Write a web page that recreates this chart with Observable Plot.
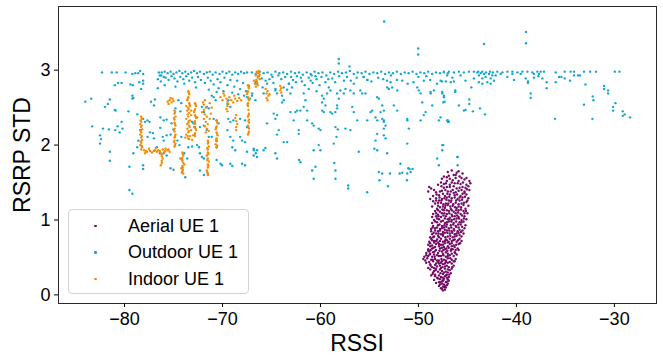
<!DOCTYPE html>
<html><head><meta charset="utf-8">
<script src="https://cdn.jsdelivr.net/npm/d3@7"></script>
<script src="https://cdn.jsdelivr.net/npm/@observablehq/plot@0.6"></script>
<style>
body{margin:0;background:#fff;}
#wrap{position:relative;width:663px;height:358px;font-family:"Liberation Sans",Arial,Helvetica,sans-serif;color:#000;}
.lab{position:absolute;font-size:23px;line-height:23px;white-space:nowrap;}
#legend{position:absolute;left:68px;top:209px;width:181px;height:85px;border:1px solid #d4d4d4;border-radius:4px;background:rgba(255,255,255,0.85);box-sizing:border-box;}
.row{position:absolute;left:0;height:20px;display:flex;align-items:center;font-size:18px;}
.mk{position:absolute;left:25px;width:2.6px;height:2.6px;border-radius:50%;}
.tx{position:absolute;left:59px;white-space:nowrap;}
</style></head><body><div id="wrap"></div><script>
const seriesNames = ["Aerial UE 1", "Outdoor UE 1", "Indoor UE 1"];
const seriesColors = ["#740a66", "#12a6d3", "#f28c0a"];
const xTicks = [-80, -70, -60, -50, -40, -30];
const yTicks = [0, 1, 2, 3];
const xLabel = "RSSI";
const yLabel = "RSRP STD";

const aerial = [
[-47.5,0.06],[-47.3,0.07],[-47.7,0.09],[-47.2,0.1],[-47.5,0.11],[-47.9,0.12],[-47.1,0.13],[-47.4,0.14],[-47.6,0.15],[-47.8,0.14],[-47.3,0.12],[-47.0,0.15],
[-48.2,0.16],[-47.9,0.17],[-47.6,0.18],[-47.2,0.17],[-46.9,0.19],[-48.4,0.2],[-47.8,0.21],[-47.4,0.22],[-47.0,0.21],[-48.1,0.23],[-47.7,0.24],[-47.3,0.25],[-46.9,0.24],[-48.3,0.25],[-47.5,0.19],[-47.1,0.23],
[-48.7,0.26],[-48.3,0.27],[-47.9,0.26],[-47.5,0.28],[-47.1,0.27],[-46.7,0.29],[-48.5,0.3],[-48.0,0.31],[-47.6,0.32],[-47.2,0.31],[-46.8,0.33],[-48.8,0.34],[-48.2,0.35],[-47.8,0.34],[-47.3,0.35],[-46.6,0.35],[-47.0,0.3],[-48.4,0.32],
[-49.0,0.36],[-48.6,0.37],[-48.1,0.38],[-47.7,0.36],[-47.3,0.38],[-46.9,0.37],[-46.4,0.39],[-48.8,0.41],[-48.3,0.4],[-47.9,0.42],[-47.5,0.41],[-47.0,0.43],[-46.6,0.42],[-48.9,0.44],[-48.5,0.45],[-48.0,0.44],[-47.6,0.45],[-47.2,0.44],[-46.3,0.45],[-47.8,0.39],
[-49.5,0.48],[-49.3,0.46],[-49.1,0.49],[-48.7,0.47],[-48.3,0.48],[-47.9,0.46],[-47.4,0.47],[-47.0,0.49],[-46.6,0.47],[-46.2,0.48],[-49.4,0.51],[-49.0,0.52],[-48.6,0.51],[-48.1,0.53],[-47.7,0.52],[-47.2,0.51],[-46.8,0.53],[-46.4,0.52],[-48.8,0.55],[-48.4,0.54],[-47.5,0.55],[-47.0,0.55],[-46.1,0.54],
[-49.2,0.56],[-48.9,0.58],[-48.5,0.57],[-48.0,0.56],[-47.6,0.58],[-47.2,0.57],[-46.7,0.59],[-46.3,0.57],[-49.0,0.61],[-48.6,0.62],[-48.2,0.6],[-47.8,0.62],[-47.3,0.61],[-46.9,0.63],[-46.5,0.61],[-46.0,0.62],[-48.8,0.65],[-48.3,0.64],[-47.9,0.65],[-47.4,0.64],[-47.0,0.65],[-46.6,0.65],[-45.9,0.6],
[-49.0,0.67],[-48.6,0.66],[-48.2,0.68],[-47.7,0.67],[-47.3,0.69],[-46.8,0.68],[-46.4,0.66],[-45.9,0.68],[-48.9,0.71],[-48.4,0.72],[-48.0,0.7],[-47.5,0.71],[-47.1,0.73],[-46.6,0.72],[-46.1,0.71],[-45.6,0.72],[-48.7,0.75],[-48.1,0.74],[-47.7,0.75],[-47.2,0.74],[-46.8,0.75],[-46.3,0.74],[-45.8,0.75],
[-48.8,0.77],[-48.4,0.78],[-47.9,0.77],[-47.5,0.79],[-47.0,0.78],[-46.5,0.77],[-46.1,0.79],[-45.6,0.78],[-48.6,0.81],[-48.2,0.82],[-47.7,0.81],[-47.3,0.83],[-46.8,0.82],[-46.3,0.81],[-45.9,0.83],[-45.4,0.82],[-48.7,0.85],[-48.0,0.85],[-47.5,0.84],[-47.1,0.86],[-46.6,0.85],[-46.0,0.85],[-45.5,0.86],
[-48.7,0.88],[-48.3,0.89],[-47.8,0.88],[-47.4,0.9],[-46.9,0.89],[-46.4,0.88],[-45.9,0.9],[-45.3,0.89],[-48.5,0.92],[-48.0,0.93],[-47.6,0.92],[-47.1,0.94],[-46.7,0.93],[-46.2,0.92],[-45.7,0.94],[-45.2,0.93],[-48.6,0.96],[-48.1,0.97],[-47.3,0.96],[-46.9,0.98],[-46.4,0.96],[-45.8,0.97],[-45.4,0.98],
[-48.4,1.0],[-47.9,1.01],[-47.5,0.99],[-47.0,1.01],[-46.6,1.0],[-46.1,1.02],[-45.6,1.0],[-45.1,1.01],[-48.6,1.04],[-48.2,1.05],[-47.7,1.04],[-47.2,1.05],[-46.8,1.03],[-46.3,1.05],[-45.9,1.04],[-45.3,1.05],
[-48.5,1.08],[-48.0,1.07],[-47.6,1.09],[-47.1,1.08],[-46.6,1.07],[-46.2,1.09],[-45.7,1.08],[-45.0,1.09],[-48.3,1.12],[-47.8,1.11],[-47.4,1.13],[-46.9,1.12],[-46.4,1.11],[-45.9,1.13],[-45.4,1.12],[-48.1,1.15],[-47.3,1.16],[-46.7,1.15],[-46.1,1.16],[-45.2,1.15],
[-48.6,1.18],[-48.0,1.19],[-47.5,1.18],[-47.0,1.2],[-46.5,1.19],[-45.9,1.18],[-45.4,1.2],[-44.9,1.19],[-48.3,1.22],[-47.7,1.23],[-47.2,1.22],[-46.7,1.24],[-46.2,1.23],[-45.6,1.22],[-45.1,1.24],[-48.5,1.25],[-47.9,1.26],[-46.9,1.26],[-45.8,1.26],
[-48.8,1.28],[-48.2,1.29],[-47.6,1.28],[-47.1,1.3],[-46.6,1.29],[-46.0,1.28],[-45.5,1.3],[-44.9,1.29],[-48.5,1.32],[-47.9,1.33],[-47.3,1.32],[-46.8,1.34],[-46.3,1.33],[-45.7,1.32],[-45.1,1.34],[-47.5,1.35],[-46.4,1.36],[-45.3,1.36],
[-49.0,1.38],[-48.7,1.42],[-48.4,1.4],[-48.9,1.44],[-48.2,1.37],[-47.6,1.39],[-47.0,1.38],[-46.5,1.4],[-45.9,1.39],[-45.3,1.38],[-44.8,1.4],[-47.4,1.43],[-46.8,1.44],[-46.1,1.42],[-45.5,1.44],[-44.9,1.45],
[-48.0,1.47],[-47.4,1.48],[-46.8,1.47],[-46.3,1.49],[-45.7,1.48],[-45.1,1.47],[-44.7,1.49],[-47.1,1.52],[-46.5,1.53],[-45.9,1.52],[-45.3,1.54],[-44.8,1.52],[-47.6,1.55],[-46.2,1.56],
[-47.4,1.58],[-46.9,1.59],[-46.4,1.6],[-45.8,1.58],[-45.5,1.62],[-47.0,1.64],[-46.1,1.63],[-46.6,1.66],[-45.9,1.65],
[-47.6,0.08],[-47.35,0.1],[-47.8,0.17],[-47.05,0.18],[-47.45,0.2],
[-48.0,0.22],[-47.55,0.23],[-47.2,0.26],[-46.85,0.27],[-48.55,0.28],[-47.75,0.29],[-47.4,0.3],[-48.25,0.33],[-47.0,0.34],
[-48.75,0.39],[-48.4,0.36],[-47.55,0.37],[-47.1,0.39],[-46.55,0.37],[-48.2,0.42],[-47.7,0.43],[-47.3,0.42],[-46.8,0.44],[-49.2,0.43],[-48.55,0.47],[-48.1,0.46],[-47.65,0.48],[-47.2,0.46],[-46.75,0.49],[-46.4,0.45],
[-49.2,0.53],[-48.85,0.54],[-48.35,0.51],[-47.9,0.52],[-47.45,0.53],[-47.0,0.52],[-46.6,0.55],[-46.25,0.56],[-49.0,0.59],[-48.75,0.6],[-48.35,0.58],[-47.85,0.59],[-47.45,0.6],[-47.05,0.59],[-46.65,0.61],[-46.2,0.6],[-48.45,0.63],[-47.6,0.63],[-47.15,0.62],[-46.3,0.64],
[-48.8,0.69],[-48.4,0.7],[-47.9,0.68],[-47.5,0.67],[-47.0,0.7],[-46.6,0.69],[-46.15,0.67],[-45.75,0.69],[-48.6,0.73],[-48.2,0.72],[-47.8,0.72],[-47.3,0.72],[-46.9,0.71],[-46.45,0.73],[-45.95,0.73],[-48.5,0.77],[-48.0,0.79],[-47.25,0.77],[-46.75,0.79],[-46.3,0.78],[-45.8,0.8],
[-48.45,0.83],[-47.95,0.82],[-47.5,0.81],[-47.05,0.83],[-46.55,0.83],[-46.1,0.82],[-45.65,0.84],[-48.3,0.86],[-47.8,0.86],[-47.3,0.87],[-46.85,0.86],[-46.35,0.86],[-45.8,0.87],[-48.55,0.9],[-48.1,0.9],[-47.6,0.89],[-47.15,0.91],[-46.65,0.9],[-46.15,0.91],[-45.55,0.91],[-47.85,0.94],[-47.35,0.93],[-46.45,0.94],[-45.95,0.94],
[-48.3,0.98],[-47.7,0.98],[-47.1,0.97],[-46.65,0.98],[-46.15,0.98],[-45.6,0.97],[-48.1,1.02],[-47.3,1.02],[-46.85,1.01],[-46.35,1.01],[-45.85,1.02],[-45.35,1.02],[-47.95,1.05],[-47.45,1.06],[-46.55,1.05],[-46.05,1.06],[-45.55,1.06],[-48.2,1.09],[-47.35,1.09],[-46.85,1.09],[-45.95,1.1],[-45.3,1.09],
[-48.0,1.13],[-47.55,1.14],[-47.1,1.13],[-46.6,1.13],[-46.15,1.13],[-45.65,1.14],[-45.15,1.12],[-47.8,1.17],[-47.25,1.19],[-46.75,1.18],[-46.25,1.17],[-45.65,1.17],[-48.0,1.23],[-47.45,1.21],[-46.95,1.22],[-46.45,1.21],[-45.9,1.21],[-45.35,1.23],[-48.2,1.26],[-47.65,1.26],[-47.15,1.27],[-46.65,1.26],[-46.15,1.26],[-45.55,1.27],[-45.0,1.26],
[-47.85,1.3],[-47.35,1.29],[-46.85,1.31],[-46.3,1.3],[-45.8,1.3],[-45.25,1.31],[-48.15,1.34],[-47.05,1.35],[-46.05,1.34],[-45.5,1.35],[-47.8,1.38],[-47.25,1.4],[-46.7,1.38],[-46.2,1.37],[-45.6,1.4],[-45.05,1.41],[-47.65,1.45],[-47.1,1.44],[-46.4,1.45],[-45.8,1.43],[-45.2,1.43],
[-47.7,1.5],[-47.2,1.49],[-46.6,1.5],[-46.0,1.49],[-45.45,1.5],[-46.8,1.55],[-45.6,1.56],[-45.1,1.56],[-47.1,1.57],[-46.2,1.6]
];

const outdoor = [
[-84.0,2.58],[-83.4,2.62],[-83.3,2.25],[-82.5,2.13],[-82.4,2.08],[-82.5,2.02],[-82.2,2.22],[-81.6,2.21],[-81.5,1.91],[-81.5,1.79],[-82.0,2.51],[-81.7,2.55],[-81.5,2.61],[-81.0,2.47],[-80.9,2.46],[-80.95,2.2],[-80.5,2.17],[-80.2,2.22],[-80.3,2.31],[-80.7,2.25],[-79.6,2.45],[-79.5,1.71],[-79.1,1.89],[-79.5,1.4],[-79.2,1.35],[-78.7,2.41],[-78.1,2.35],[-78.4,2.2],[-78.6,2.06],[-78.7,1.97],[-78.1,1.73],[-78.1,1.68],
[-82.3,2.97],[-81.3,2.97],[-80.8,2.97],[-79.9,2.97],[-79.2,2.95],[-78.9,2.96],[-78.6,2.96],[-78.4,2.99],[-78.1,2.95],
[-80.65,2.83],[-80.3,2.83],[-81.0,2.8],[-79.4,2.81],[-79.15,2.8],[-78.5,2.84],[-78.1,2.86],[-78.1,2.82],[-78.3,2.75],[-79.2,2.66],[-79.1,2.63],[-79.2,2.62],
[-77.9,2.31],[-77.65,2.33],[-77.45,2.31],[-77.4,2.17],[-77.1,2.16],[-77.65,2.11],[-77.0,2.09],[-77.3,2.58],[-76.9,2.61],[-77.0,2.53],[-76.6,2.76],
[-76.35,2.37],[-76.0,2.33],[-76.35,2.23],[-76.0,2.06],[-76.1,2.11],[-76.7,1.97],[-76.4,1.89],[-76.0,1.89],[-75.7,1.86],[-75.7,2.13],[-75.3,2.14],[-75.7,2.34],[-75.2,2.29],[-75.0,2.21],[-74.5,2.6],[-74.2,2.56],[-74.8,2.49],[-74.3,2.45],[-74.6,2.06],[-74.2,2.11],[-74.4,2.0],[-75.3,1.69],[-75.0,1.67],[-73.8,1.57],[-73.9,1.89],[-73.6,1.82],[-73.5,1.97],[-73.1,1.98],[-72.6,2.0],[-72.4,1.97],[-72.95,2.29],[-72.8,2.24],[-73.1,2.31],[-72.6,2.37],[-72.1,2.51],[-71.6,2.51],[-71.4,2.49],[-71.9,2.44],[-72.3,2.24],[-71.9,2.26],[-71.6,2.2],[-71.4,2.11],[-72.3,1.89],[-72.1,1.84],[-71.9,1.82],[-71.9,1.6],[-72.3,1.66],[-71.1,2.66],[-70.9,2.64],[-70.6,2.71],[-70.7,2.6],[-70.9,2.35],[-70.6,2.33],[-70.4,2.29],[-71.1,2.11],[-70.6,2.06],[-70.6,1.97],[-70.6,1.8],[-70.2,1.75],[-70.05,1.73],[-69.5,2.55],[-69.4,2.6],[-69.2,2.51],[-69.4,2.35],[-69.2,2.31],[-68.9,2.33],[-69.5,2.2],[-69.2,2.11],[-68.9,2.06],[-69.0,1.97],[-68.7,1.93],[-69.2,1.75],[-69.0,1.72],[-68.2,2.11],[-68.0,2.06],[-67.7,2.04],[-67.5,1.91],[-66.8,1.93],[-66.6,1.89],[-68.0,1.75],[-67.7,1.73],[-68.2,2.35],[-67.7,2.33],[-67.5,2.24],[-67.5,2.64],[-67.2,2.62],[-67.0,2.66],
[-76.5,2.97],[-76.2,2.97],[-76.4,2.93],[-76.25,2.93],[-76.0,2.91],[-75.9,2.98],[-75.6,2.96],[-75.3,2.98],[-75.0,2.95],[-74.7,2.97],[-74.4,2.99],[-74.1,2.96],[-73.8,2.98],[-73.5,2.95],[-73.2,2.97],[-72.9,2.99],[-72.6,2.96],[-72.3,2.98],[-71.9,2.95],[-71.6,2.97],[-71.3,2.98],[-71.0,2.94],[-70.7,2.97],[-70.3,2.95],[-70.0,2.98],[-69.6,2.96],[-69.3,2.98],[-69.0,2.94],[-68.7,2.97],[-68.4,2.95],[-68.1,2.98],[-67.8,2.96],[-67.5,2.97],
[-76.6,2.88],[-76.3,2.85],[-75.8,2.9],[-75.5,2.87],[-75.2,2.92],[-74.9,2.89],[-74.6,2.85],[-74.3,2.91],[-74.0,2.88],[-73.7,2.92],[-73.4,2.86],[-73.1,2.9],[-72.8,2.84],[-72.5,2.91],[-72.2,2.87],[-71.8,2.83],[-71.5,2.9],[-71.2,2.86],[-70.9,2.81],[-70.5,2.88],[-70.2,2.84],[-69.8,2.9],[-69.5,2.8],[-69.2,2.87],[-68.8,2.78],[-68.5,2.86],[-68.2,2.75],[-67.9,2.83],[-67.6,2.72],[-67.3,2.79],[-75.9,2.8],[-74.8,2.78],[-73.9,2.82],[-72.7,2.77],[-71.4,2.74],[-70.4,2.76],[-69.9,2.72],[-69.0,2.7],[-68.4,2.68],[-67.8,2.66],
[-67.0,2.97],[-66.6,2.95],[-66.2,2.98],[-65.8,2.96],[-65.4,2.97],[-65.0,2.94],[-64.6,2.98],[-64.2,2.96],[-63.8,2.97],[-63.4,2.95],[-63.0,2.98],[-62.6,2.96],[-62.2,2.97],[-61.8,2.94],[-61.4,2.97],[-61.0,2.95],[-60.6,2.98],[-60.2,2.96],[-59.8,2.97],[-59.4,2.93],[-59.0,2.97],[-58.6,2.95],[-58.2,2.98],[-57.8,2.96],[-57.4,2.97],[-57.0,2.99],[-56.6,2.95],[-56.2,2.97],[-55.8,2.96],[-55.4,2.98],[-55.0,2.95],[-54.6,2.97],[-54.2,2.96],[-53.8,2.98],[-53.4,2.95],[-53.0,2.97],[-52.6,2.96],[-52.2,2.98],[-51.8,2.95],[-51.4,2.97],[-51.0,2.96],[-50.6,2.98],[-50.2,2.95],[-49.8,2.97],[-49.4,2.96],[-49.0,2.98],[-48.6,2.95],[-48.2,2.97],[-47.8,2.96],[-47.4,2.98],[-47.0,2.96],
[-66.6,2.84],[-66.6,2.82],[-66.0,2.89],[-65.6,2.86],[-65.45,2.82],[-64.9,2.91],[-64.0,2.88],[-63.2,2.82],[-63.6,2.91],[-62.8,2.87],[-62.4,2.92],[-61.9,2.85],[-61.2,2.9],[-60.8,2.83],[-60.4,2.88],[-59.9,2.91],[-59.5,2.84],[-58.8,2.89],[-57.6,2.86],[-56.9,2.86],[-56.6,2.82],[-56.3,2.9],[-55.6,2.91],[-55.2,2.87],[-54.8,2.85],[-54.1,2.9],[-53.6,2.88],[-53.2,2.86],[-52.85,2.84],[-52.2,2.87],[-51.65,2.86],[-51.1,2.82],[-50.5,2.84],[-49.45,2.86],[-48.8,2.87],[-48.1,2.82],[-47.6,2.85],[-50.0,2.91],[-49.2,2.92],[-52.8,2.93],[-58.1,2.92],[-60.9,2.93],
[-66.3,2.92],[-65.2,2.88],[-64.8,2.83],[-64.3,2.93],[-63.0,2.91],[-62.5,2.84],[-62.0,2.9],[-61.6,2.8],[-61.0,2.86],[-60.5,2.92],[-60.1,2.8],[-59.2,2.88],[-58.5,2.84],[-57.3,2.91],[-65.9,2.77],[-63.4,2.74],[-62.9,2.77],[-61.2,2.75],[-60.4,2.72],
[-66.98,2.69],[-66.64,2.6],[-65.8,2.69],[-64.6,2.75],[-64.6,2.73],[-64.43,2.69],[-63.92,2.66],[-63.75,2.6],[-63.92,2.57],[-63.75,2.77],[-63.24,2.82],[-63.07,2.69],[-64.77,2.42],[-64.6,2.35],[-64.43,2.4],[-65.45,2.29],[-64.26,2.2],[-64.43,2.14],[-63.75,2.04],[-63.4,2.04],[-65.8,1.93],[-66.47,1.84],[-66.82,1.86],[-64.6,1.89],[-64.43,1.82],[-62.22,2.15],[-62.22,2.2],[-63.07,2.44],[-62.56,2.44],[-62.38,2.46],[-62.05,2.46],[-62.73,2.33],[-61.36,2.33],[-60.85,2.29],[-60.69,2.26],[-61.71,2.69],[-61.53,2.6],[-61.71,2.51],[-61.36,2.46],[-60.18,2.22],[-60.0,2.2],[-60.18,2.0],[-60.0,1.93],[-60.69,1.93],[-60.51,1.71],[-60.85,1.66],[-59.83,2.46],[-59.66,2.44],[-58.99,2.44],[-58.81,2.42],[-58.48,2.44],[-59.83,2.66],[-59.66,2.62],[-59.83,2.57],[-59.49,2.53],[-59.15,2.77],[-58.99,2.73],[-59.32,2.69],[-58.3,2.69],[-58.13,2.62],[-58.3,2.53],[-58.3,2.49],[-58.47,2.24],[-58.23,2.21],[-58.37,2.11],[-57.45,2.22],[-56.95,2.2],[-58.64,2.02],[-58.47,1.66],[-57.97,2.73],[-57.62,2.69],[-57.45,2.75],[-56.76,2.51],[-56.6,2.44],[-56.95,2.73],[-56.6,2.69],[-55.93,2.73],[-55.74,2.69],[-55.41,2.69],[-56.25,2.33],[-56.09,1.91],[-55.23,2.33],[-54.89,2.44],[-54.72,2.46],[-54.21,2.64],[-54.04,2.62],[-53.7,2.53],[-53.53,2.46],[-54.38,2.37],[-54.21,2.33],[-53.87,2.44],[-53.7,2.35],[-53.53,2.33],[-53.53,2.31],[-53.36,2.26],[-53.53,2.22],[-54.21,2.15],[-54.38,2.06],[-53.53,2.13],[-53.36,2.09],[-54.21,1.93],[-53.19,1.89],[-54.04,1.64],[-53.7,1.62],[-53.19,2.77],[-53.02,2.75],[-52.68,2.77],[-52.16,2.73],[-52.51,2.53],[-52.16,2.46],[-51.14,2.35],[-51.14,2.33],[-50.98,2.22],[-51.14,2.02],[-50.8,1.64],[-51.14,1.62],[-50.12,2.77],[-49.96,2.73],[-49.78,2.69],[-49.61,2.57],[-49.78,2.33],[-49.45,2.4],[-49.27,2.44],[-48.76,2.71],[-48.76,2.69],[-48.42,2.73],[-48.59,2.53],[-47.91,2.33],[-47.74,2.37],[-47.57,2.69],[-47.4,2.64],[-47.46,2.57],[-47.06,2.33],[-46.89,2.31],[-47.57,1.93],[-47.46,2.0],[-48.08,1.82],[-47.91,1.73],[-51.84,1.75],[-55.58,2.91],[-55.23,2.87],[-66.82,1.95],[-66.47,1.93],[-65.62,1.96],[-62.05,1.77],[-60.69,1.55],[-58.47,1.55],
[-58.13,3.15],[-58.13,3.09],[-57.04,3.05],[-50.02,3.29],[-50.02,3.21],[-43.31,3.35],[-39.02,3.51],[-39.02,3.36],[-53.5,3.65],
[-57.17,1.46],[-57.17,1.42],[-55.23,1.37],[-53.97,1.53],[-53.11,1.45],[-52.9,1.62],[-51.04,1.69],[-51.17,1.53],[-51.92,1.62],[-50.6,1.68],[-62.18,1.8],[-58.59,1.76],[-54.5,1.95],[-46.0,1.84],[-46.0,1.73],[-51.65,1.63],[-50.9,1.68],
[-47.74,2.86],[-47.2,2.85],[-46.7,2.84],[-46.38,2.85],[-46.24,2.73],[-46.24,2.71],[-47.57,2.71],[-47.4,2.66],[-47.33,2.58],[-47.0,2.33],[-47.0,2.31],[-47.57,2.0],[-46.03,1.84],[-45.87,2.53],[-45.36,2.46],[-45.19,2.47],[-44.81,2.61],[-44.81,2.55],[-44.6,2.77],[-44.44,2.45],[-43.72,2.49],[-43.21,2.41],[-38.82,2.85],[-38.82,2.83],[-38.54,2.69],[-38.54,2.63],[-38.21,2.9],[-37.76,2.92],[-37.35,2.89],[-36.91,2.84],[-36.91,2.76],[-36.06,2.35],[-35.99,2.84],[-35.65,2.91],[-35.41,2.91],[-35.07,2.89],[-34.53,2.86],[-34.12,2.93],[-33.71,2.93],[-33.5,2.93],[-32.95,2.81],[-33.1,2.54],[-32.21,2.65],[-32.14,2.6],[-32.24,2.35],[-31.05,2.79],[-31.05,2.75],[-30.64,2.73],[-30.64,2.69],[-29.89,2.56],[-30.13,2.51],[-30.13,2.46],[-29.14,2.45],[-28.94,2.41],[-29.14,2.39],[-28.4,2.37],
[-29.96,2.98],[-29.48,2.98],[-31.87,2.98],[-32.48,2.98],[-33.1,2.98],[-35.07,2.98],[-34.46,2.98],[-34.12,2.98],[-35.99,2.97],[-41.95,2.98],[-41.43,2.97],[-40.92,2.98],[-40.41,2.98],[-39.9,2.97],[-39.39,2.98],[-38.88,2.98],[-38.37,2.97],[-37.86,2.98],[-37.52,2.98],[-37.18,2.98],[-47.4,2.97],[-46.89,2.98],[-46.38,2.97],[-45.87,2.98],[-45.36,2.97],[-44.85,2.98],[-44.34,2.98],
[-47.06,2.93],[-46.54,2.9],[-45.7,2.93],[-45.19,2.86],[-44.34,2.89],[-42.12,2.93],[-41.61,2.95],[-40.92,2.91],[-40.41,2.95],[-40.25,2.87],[-39.56,2.95],[-39.05,2.89],[-38.21,2.95],[-37.7,2.95],
[-43.99,2.97],[-43.83,2.93],[-43.65,2.96],[-43.48,2.89],[-43.31,2.95],[-43.14,2.91],[-42.97,2.84],[-42.8,2.95],[-42.63,2.89],[-42.46,2.93],[-43.83,2.84],[-43.48,2.82],[-42.63,2.82],[-42.29,2.86],[-43.9,2.98],[-43.5,2.98],[-43.1,2.97],[-42.7,2.98],[-42.4,2.97]
];

const indoor = [
[-78.3,2.38],[-78.2,2.35],[-78.3,2.31],[-78.4,2.28],[-78.3,2.24],[-78.2,2.21],[-78.3,2.17],[-78.4,2.14],[-78.3,2.1],[-78.2,2.07],[-78.3,2.03],[-78.4,2.0],[-78.2,1.97],[-78.3,1.94],
[-78.25,2.36],[-78.35,2.33],[-78.25,2.26],[-78.35,2.19],[-78.25,2.12],[-78.35,2.05],[-78.25,1.99],
[-78.0,1.93],[-77.7,1.91],[-77.4,1.92],[-77.2,1.9],[-76.9,1.93],[-76.7,1.91],[-76.4,1.92],[-76.1,1.94],[-75.9,1.92],[-75.6,1.93],[-75.4,1.91],[-77.5,1.95],[-76.8,1.96],[-76.3,1.89],[-75.8,1.95],[-77.9,1.89],
[-77.8,1.92],[-77.0,1.92],[-76.55,1.93],[-75.95,1.9],[-75.5,1.94],
[-76.2,1.88],[-76.2,1.85],[-76.1,1.82],[-76.2,1.79],[-76.2,1.76],[-76.3,1.73],
[-75.6,2.58],[-75.4,2.6],[-75.2,2.57],[-75.0,2.59],[-75.3,2.63],[-75.5,2.55],[-75.1,2.62],
[-74.9,2.46],[-74.9,2.42],[-74.8,2.38],[-74.9,2.34],[-74.9,2.3],[-74.8,2.26],[-74.9,2.22],[-74.9,2.18],[-74.8,2.14],[-74.9,2.1],[-74.9,2.06],[-74.8,2.02],[-74.9,1.98],
[-74.85,2.44],[-74.95,2.36],[-74.85,2.28],[-74.95,2.2],[-74.85,2.12],[-74.95,2.04],[-74.85,2.0],
[-74.1,1.9],[-74.0,1.86],[-74.1,1.83],[-74.1,1.79],[-74.0,1.76],[-74.1,1.72],[-74.2,1.69],[-74.1,1.65],[-74.0,1.62],[-74.3,1.82],[-73.9,1.74],
[-74.05,1.88],[-74.15,1.81],[-74.05,1.7],[-74.15,1.63],[-74.05,1.67],
[-73.5,2.72],[-73.4,2.68],[-73.5,2.64],[-73.6,2.6],[-73.4,2.56],[-73.3,2.52],[-73.5,2.5],[-73.6,2.46],[-73.4,2.43],[-73.2,2.4],[-73.5,2.38],[-73.7,2.35],[-73.3,2.33],[-73.5,2.3],[-73.4,2.26],[-73.6,2.22],[-73.2,2.2],[-73.5,2.17],[-73.7,2.14],[-73.3,2.12],[-73.5,2.09],[-73.1,2.07],[-73.8,2.1],[-73.0,2.13],[-73.2,2.46],[-73.7,2.52],
[-73.45,2.7],[-73.55,2.62],[-73.35,2.54],[-73.45,2.48],[-73.55,2.41],[-73.45,2.32],[-73.35,2.24],[-73.45,2.19],[-73.55,2.12],[-73.4,2.08],[-73.6,2.28],
[-72.8,2.56],[-72.7,2.52],[-72.8,2.48],[-72.9,2.44],[-72.8,2.4],[-72.7,2.36],[-72.8,2.32],[-72.8,2.28],[-72.9,2.24],[-72.7,2.2],[-72.8,2.16],[-72.8,2.12],
[-72.75,2.54],[-72.85,2.46],[-72.75,2.38],[-72.85,2.3],[-72.75,2.22],[-72.85,2.14],
[-72.0,2.57],[-71.8,2.6],[-71.9,2.54],[-71.7,2.5],[-71.9,2.47],[-72.1,2.44],[-71.8,2.41],[-71.6,2.38],[-71.9,2.35],[-71.7,2.31],[-71.5,2.28],[-71.8,2.25],[-71.6,2.22],[-71.4,2.19],[-71.7,2.17],[-71.2,2.42],[-71.3,2.35],[-71.1,2.5],[-71.3,2.56],
[-71.5,2.06],[-71.5,2.02],[-71.4,1.98],[-71.5,1.94],[-71.5,1.9],[-71.6,1.86],[-71.5,1.82],[-71.4,1.78],[-71.5,1.74],[-71.5,1.7],[-71.6,1.66],[-71.5,1.62],
[-71.45,2.04],[-71.55,1.96],[-71.45,1.88],[-71.55,1.8],[-71.45,1.72],[-71.55,1.64],[-71.5,1.6],
[-70.6,2.33],[-70.5,2.29],[-70.6,2.25],[-70.7,2.21],[-70.6,2.17],[-70.5,2.13],[-70.6,2.09],[-70.6,2.05],[-70.7,2.01],[-70.6,1.97],
[-70.55,2.31],[-70.65,2.23],[-70.55,2.15],[-70.65,2.07],[-70.55,1.99],
[-70.2,2.64],[-70.0,2.6],[-69.8,2.66],[-69.6,2.62],[-69.5,2.58],[-69.3,2.64],[-69.1,2.6],[-68.9,2.57],[-68.7,2.62],[-68.5,2.59],[-68.3,2.63],[-68.1,2.6],[-69.9,2.69],[-69.4,2.55],[-68.8,2.66],
[-69.5,2.52],[-69.6,2.48],[-69.5,2.45],
[-68.6,2.4],[-68.7,2.36],[-68.6,2.32],[-68.5,2.28],[-68.6,2.24],[-68.6,2.2],
[-67.4,2.8],[-67.3,2.76],[-67.4,2.72],[-67.5,2.68],[-67.4,2.64],[-67.3,2.6],[-67.4,2.56],[-67.4,2.52],[-67.3,2.42],[-67.4,2.38],[-67.3,2.34],[-67.3,2.3],[-67.4,2.26],[-67.3,2.22],[-67.3,2.18],[-67.4,2.14],
[-67.35,2.78],[-67.45,2.7],[-67.35,2.62],[-67.45,2.54],[-67.35,2.47],[-67.35,2.4],[-67.35,2.32],[-67.35,2.24],[-67.35,2.16],
[-66.5,2.98],[-66.3,2.96],[-66.6,2.93],[-66.4,2.9],[-66.2,2.88],[-66.5,2.85],[-66.7,2.82],[-66.4,2.8],[-66.6,2.78],[-66.2,2.94],[-66.8,2.86],
[-66.45,2.96],[-66.35,2.92],[-66.55,2.87],[-66.45,2.83],[-66.3,2.99],
[-65.6,2.75],[-65.4,2.72],[-65.5,2.69],[-65.3,2.66],[-65.5,2.63],[-65.4,2.6],[-65.2,2.68],
[-64.1,2.79],[-64.0,2.76],[-64.1,2.73],[-64.0,2.7]
];

const seriesData = [aerial, outdoor, indoor];
const fmtX = d => (d < 0 ? "\u2212" + Math.abs(d) : String(d));
const fmtY = d => String(d);

const chart = Plot.plot({
  width: 663, height: 358,
  marginLeft: 58, marginRight: 7, marginTop: 6, marginBottom: 55,
  style: {fontFamily: "Liberation Sans, Arial, sans-serif", background: "transparent", color: "#000"},
  x: {domain: [-86.74, -25.7]},
  y: {domain: [-0.115, 3.85]},
  marks: [
    ...seriesData.map((data, i) => Plot.dot(data, {x: d => d[0], y: d => d[1], r: 1.2, fill: seriesColors[i]})),
    Plot.frame({stroke: "#2a2a2a", strokeWidth: 1}),
    Plot.axisX({ticks: xTicks, tickFormat: fmtX, tickSize: 4, tickPadding: 5, label: null, fontSize: 18}),
    Plot.axisY({ticks: yTicks, tickFormat: fmtY, tickSize: 4, tickPadding: 4, label: null, fontSize: 18})
  ]
});

const wrap = document.getElementById("wrap");
wrap.appendChild(chart);

const xl = document.createElement("div");
xl.className = "lab"; xl.textContent = xLabel;
xl.style.left = "357px"; xl.style.top = "332px"; xl.style.transform = "translateX(-50%)";
wrap.appendChild(xl);

const yl = document.createElement("div");
yl.className = "lab"; yl.textContent = yLabel;
yl.style.left = "22px"; yl.style.top = "155px"; yl.style.transform = "translate(-50%,-50%) rotate(-90deg)";
wrap.appendChild(yl);

const lg = document.createElement("div");
lg.id = "legend";
const rowY = [16, 42.5, 69];
seriesNames.forEach((name, i) => {
  const row = document.createElement("div");
  row.className = "row";
  row.style.top = (rowY[i] - 10) + "px";
  row.style.width = "100%";
  const mk = document.createElement("span");
  mk.className = "mk"; mk.style.background = seriesColors[i]; mk.style.top = "8.7px";
  const tx = document.createElement("span");
  tx.className = "tx"; tx.textContent = name;
  row.appendChild(mk); row.appendChild(tx);
  lg.appendChild(row);
});
wrap.appendChild(lg);
</script></body></html>
